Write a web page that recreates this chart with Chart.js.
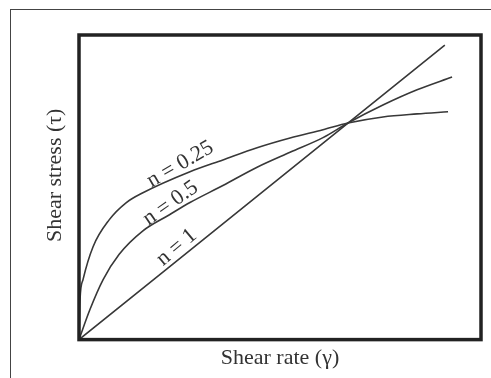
<!DOCTYPE html>
<html>
<head>
<meta charset="utf-8">
<script src="https://cdn.jsdelivr.net/npm/chart.js@4/dist/chart.umd.min.js"></script>
<style>
  html, body { margin: 0; padding: 0; background: #fff; }
  #wrap { position: relative; width: 491px; height: 378px; overflow: hidden; }
  #frame { position: absolute; left: 10px; top: 9px; width: 500px; height: 400px;
           border-left: 1.5px solid #444; border-top: 1.5px solid #444; }
  canvas { position: absolute; left: 0; top: 0; }
</style>
</head>
<body>
<div id="wrap">
  <div id="frame"></div>
  <canvas id="chart" width="491" height="378"></canvas>
</div>
<script>
// values (relative units, 0-100 on both axes)
const rateN025 = [0, 0.25, 1.0, 3.5, 7.5, 11.7, 15.9, 27.6, 35.8, 44.3, 52.5, 60.7, 66.9, 75.6, 84.1, 91.8];
const stressN025 = [0, 13.1, 19.7, 30.5, 39.3, 44.9, 48.2, 55.1, 59.0, 63.0, 66.2, 68.9, 71.1, 73.1, 74.1, 74.8];

const rateN05 = [0, 2.7, 6.0, 10.0, 15.9, 22.4, 27.6, 35.8, 44.3, 52.5, 60.7, 66.9, 75.6, 84.1, 92.8];
const stressN05 = [0, 9.8, 19.7, 28.0, 35.7, 40.9, 45.0, 50.6, 56.6, 61.5, 66.3, 71.1, 77.0, 82.0, 86.2];

const rateN1 = [0, 66.9, 91.0];
const stressN1 = [0, 71.1, 96.7];

const curveNames = ['n = 0.25', 'n = 0.5', 'n = 1'];
// where each curve label sits (data units) and its slant
const labelAt = [[25.2, 57.6, -30], [22.8, 44.8, -35], [24.3, 30.3, -40]];

const toPoints = (xs, ys) => xs.map((x, i) => ({ x, y: ys[i] }));

const lineColor = '#383838';
const serif = "'Liberation Serif', 'DejaVu Serif', serif";

const makeSet = (label, xs, ys) => ({
    label,
    data: toPoints(xs, ys),
    showLine: true,
    borderColor: lineColor,
    borderWidth: 1.6,
    pointRadius: 0,
    cubicInterpolationMode: 'monotone',
    fill: false
});

const boxAndLabels = {
    id: 'boxAndLabels',
    afterDatasetsDraw(chart) {
        const { ctx, chartArea: a, scales } = chart;
        ctx.save();
        ctx.strokeStyle = '#222';
        ctx.lineWidth = 3.5;
        ctx.strokeRect(a.left, a.top, a.right - a.left, a.bottom - a.top);

        ctx.fillStyle = '#333';
        ctx.textAlign = 'center';
        ctx.textBaseline = 'middle';

        // y axis title, sits a bit above the middle of the box like the original
        ctx.font = '22px ' + serif;
        ctx.save();
        ctx.translate(a.left - 24, (a.top + a.bottom) / 2 - 12);
        ctx.rotate(-Math.PI / 2);
        ctx.fillText('Shear stress (τ)', 0, 0);
        ctx.restore();

        ctx.font = '22px ' + serif;
        curveNames.forEach((name, i) => {
            const [lx, ly, ang] = labelAt[i];
            ctx.save();
            ctx.translate(scales.x.getPixelForValue(lx), scales.y.getPixelForValue(ly));
            ctx.rotate(ang * Math.PI / 180);
            ctx.fillText(name, 0, 0);
            ctx.restore();
        });
        ctx.restore();
    }
};

const axisOpts = (title, pad) => ({
    type: 'linear',
    min: 0,
    max: 100,
    ticks: { display: false },
    grid: { display: false, drawTicks: false },
    border: { display: false },
    title: {
        display: !!title,
        text: title,
        color: '#333',
        font: { family: serif, size: 22 },
        padding: pad
    }
});

new Chart(document.getElementById('chart'), {
    type: 'scatter',
    data: {
        datasets: [
            makeSet(curveNames[0], rateN025, stressN025),
            makeSet(curveNames[1], rateN05, stressN05),
            makeSet(curveNames[2], rateN1, stressN1)
        ]
    },
    options: {
        responsive: false,
        devicePixelRatio: 1,
        animation: false,
        layout: { padding: { left: 79, top: 35, right: 10, bottom: 0 } },
        plugins: { legend: { display: false }, tooltip: { enabled: false } },
        scales: {
            x: axisOpts('Shear rate (γ)', { top: 5, bottom: 7 }),
            y: axisOpts('', 0)
        }
    },
    plugins: [boxAndLabels]
});
</script>
</body>
</html>
